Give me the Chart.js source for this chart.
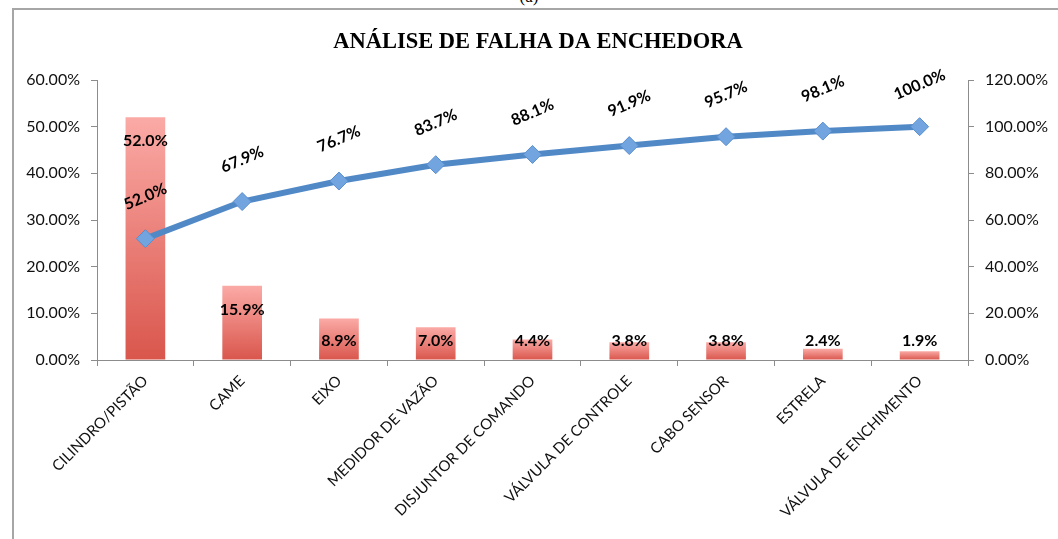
<!DOCTYPE html>
<html>
<head>
<meta charset="utf-8">
<script src="https://cdn.jsdelivr.net/npm/chart.js@4.4.1/dist/chart.umd.min.js"></script>
<style>
  html, body { margin: 0; padding: 0; background: #fff; width: 1058px; height: 539px; overflow: hidden; position: relative; }
  #frame { position: absolute; left: 12px; top: 8px; width: 1100px; height: 600px; border-left: 2px solid #a6a6a6; border-top: 2px solid #a6a6a6; box-sizing: border-box; }
  #cap { position: absolute; left: 0; width: 1058px; top: -13px; text-align: center; font: 17px "Liberation Serif", serif; color: #000; }
  #wrap { position: absolute; left: 0; top: 0; width: 1058px; height: 539px; }
</style>
</head>
<body>
<div id="cap">(a)</div>
<div id="frame"></div>
<div id="wrap"><canvas id="c" width="1058" height="539"></canvas></div>
<script>
const categories = ["CILINDRO/PISTÃO", "CAME", "EIXO", "MEDIDOR DE VAZÃO", "DISJUNTOR DE COMANDO", "VÁLVULA DE CONTROLE", "CABO SENSOR", "ESTRELA", "VÁLVULA DE ENCHIMENTO"];
const failureShare = [52.0, 15.9, 8.9, 7.0, 4.4, 3.8, 3.8, 2.4, 1.9];
const cumulativeShare = [52.0, 67.9, 76.7, 83.7, 88.1, 91.9, 95.7, 98.1, 100.0];
const leftTicks = [0, 10, 20, 30, 40, 50, 60];
const rightTicks = [0, 20, 40, 60, 80, 100, 120];
const chartTitle = "ANÁLISE DE FALHA DA ENCHEDORA";

const axisFont = { family: "Lato", size: 16 };
const labelFont = "bold 16px Lato";

const titleDraw = {
  id: "titleDraw",
  afterDraw(chart) {
    const ctx = chart.ctx;
    ctx.save();
    ctx.fillStyle = "#000";
    ctx.font = "bold 22.5px 'Liberation Serif'";
    ctx.textAlign = "center";
    ctx.textBaseline = "middle";
    ctx.fillText(chartTitle, 538, 42);
    ctx.restore();
  }
};

const valueLabels = {
  id: "valueLabels",
  afterDatasetsDraw(chart) {
    const ctx = chart.ctx;
    const yScale = chart.scales.y;
    const base = yScale.getPixelForValue(0);
    ctx.save();
    ctx.fillStyle = "#000";
    ctx.font = labelFont;
    ctx.textAlign = "center";
    ctx.textBaseline = "middle";
    chart.getDatasetMeta(0).data.forEach((el, i) => {
      const y = Math.min(el.y + 24, base - 19);
      ctx.fillText(failureShare[i].toFixed(1) + "%", el.x, y);
    });
    chart.getDatasetMeta(1).data.forEach((el, i) => {
      ctx.save();
      ctx.translate(el.x, el.y - 42);
      ctx.rotate(-23 * Math.PI / 180);
      ctx.fillText(cumulativeShare[i].toFixed(1) + "%", 0, 0);
      ctx.restore();
    });
    ctx.restore();
  }
};

new Chart(document.getElementById("c"), {
  type: "bar",
  data: {
    labels: categories,
    datasets: [
      {
        type: "bar",
        data: failureShare,
        yAxisID: "y",
        order: 2,
        categoryPercentage: 1,
        barPercentage: 0.41,
        backgroundColor(ctx) {
          const chart = ctx.chart;
          if (!chart.chartArea) return "#e57069";
          const ys = chart.scales.y;
          const top = ys.getPixelForValue(ctx.raw);
          const bottom = ys.getPixelForValue(0);
          if (!isFinite(top) || bottom - top < 1) return "#e57069";
          const g = chart.ctx.createLinearGradient(0, top, 0, bottom);
          g.addColorStop(0, "#fbaaa6");
          g.addColorStop(1, "#d9564c");
          return g;
        },
        borderWidth: 0
      },
      {
        type: "line",
        data: cumulativeShare,
        yAxisID: "y1",
        order: 1,
        borderColor: "#5189c7",
        borderWidth: 6,
        pointStyle: "rectRot",
        pointRadius: 9,
        pointHoverRadius: 9,
        pointBackgroundColor: "#72a4e0",
        pointBorderColor: "#5a8fcd",
        pointBorderWidth: 1,
        tension: 0
      }
    ]
  },
  options: {
    responsive: false,
    animation: false,
    events: [],
    layout: { padding: { left: 0, right: 0, top: 80, bottom: 0 } },
    plugins: {
      legend: { display: false },
      tooltip: { enabled: false },
      title: { display: false }
    },
    scales: {
      x: {
        grid: { display: true, drawOnChartArea: false, drawTicks: true, tickLength: 6, color: "#8c8c8c", offset: true },
        border: { display: true, color: "#8c8c8c", width: 1 },
        ticks: { color: "#111", font: { family: "Lato", size: 15 }, minRotation: 45, maxRotation: 45, autoSkip: false, padding: 6 },
        afterFit(scale) { scale.height = 179; }
      },
      y: {
        position: "left",
        min: 0, max: 60,
        afterBuildTicks(scale) { scale.ticks = leftTicks.map(v => ({ value: v })); },
        grid: { display: true, drawOnChartArea: false, drawTicks: true, tickLength: 6, color: "#8c8c8c" },
        border: { display: true, color: "#8c8c8c", width: 1 },
        ticks: { color: "#111", font: axisFont, padding: 11, callback: v => v.toFixed(2) + "%" },
        afterFit(scale) { scale.width = 97; }
      },
      y1: {
        position: "right",
        min: 0, max: 120,
        afterBuildTicks(scale) { scale.ticks = rightTicks.map(v => ({ value: v })); },
        grid: { display: true, drawOnChartArea: false, drawTicks: true, tickLength: 6, color: "#8c8c8c" },
        border: { display: true, color: "#8c8c8c", width: 1 },
        ticks: { color: "#111", font: axisFont, padding: 11, callback: v => v.toFixed(2) + "%" },
        afterFit(scale) { scale.width = 90; }
      }
    }
  },
  plugins: [valueLabels, titleDraw]
});
</script>
</body>
</html>
